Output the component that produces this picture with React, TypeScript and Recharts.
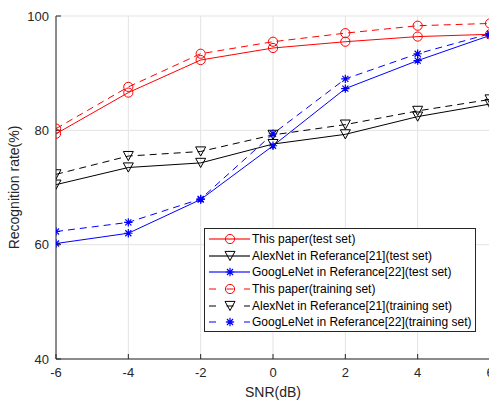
import { LineChart, Line, XAxis, YAxis, CartesianGrid, Legend } from 'recharts'

const snr = [-6, -4, -2, 0, 2, 4, 6]
const oursTest = [79.4, 86.6, 92.3, 94.4, 95.5, 96.4, 96.8]
const alexTest = [70.5, 73.5, 74.3, 77.6, 79.3, 82.4, 84.6]
const googTest = [60.2, 62.0, 67.9, 77.3, 87.3, 92.2, 96.6]
const oursTrain = [80.3, 87.6, 93.4, 95.5, 97.0, 98.3, 98.7]
const alexTrain = [72.3, 75.5, 76.3, 79.2, 81.0, 83.4, 85.4]
const googTrain = [62.3, 63.9, 68.0, 79.4, 89.0, 93.4, 96.9]

const xTicks = [-6, -4, -2, 0, 2, 4, 6]
const yTicks = [40, 60, 80, 100]

type Marker = 'circle' | 'tri' | 'star'

const SERIES: { key: string; name: string; color: string; marker: Marker; dashed: boolean }[] = [
  { key: 'oursTest', name: 'This paper(test set)', color: '#ff0000', marker: 'circle', dashed: false },
  { key: 'alexTest', name: 'AlexNet in Referance[21](test set)', color: '#000000', marker: 'tri', dashed: false },
  { key: 'googTest', name: 'GoogLeNet in Referance[22](test set)', color: '#0000ff', marker: 'star', dashed: false },
  { key: 'oursTrain', name: 'This paper(training set)', color: '#ff0000', marker: 'circle', dashed: true },
  { key: 'alexTrain', name: 'AlexNet in Referance[21](training set)', color: '#000000', marker: 'tri', dashed: true },
  { key: 'googTrain', name: 'GoogLeNet in Referance[22](training set)', color: '#0000ff', marker: 'star', dashed: true },
]

const data = snr.map((x, i) => ({
  snr: x,
  oursTest: oursTest[i],
  alexTest: alexTest[i],
  googTest: googTest[i],
  oursTrain: oursTrain[i],
  alexTrain: alexTrain[i],
  googTrain: googTrain[i],
}))

const AXIS = '#262626'
const FONT = '"Liberation Sans", Arial, sans-serif'
const DASH = '7 5'

function MarkerShape({ type, cx, cy, color }: { type: Marker; cx: number; cy: number; color: string }) {
  if (type === 'circle') return <circle cx={cx} cy={cy} r={4.6} fill="none" stroke={color} strokeWidth={1} />
  if (type === 'tri') {
    const w = 5, h = 4.6
    return <path d={`M${cx - w},${cy - h}L${cx + w},${cy - h}L${cx},${cy + h}Z`} fill="none" stroke={color} strokeWidth={1} />
  }
  const r = 4.2, d = r * 0.72
  return (
    <path d={`M${cx - r},${cy}L${cx + r},${cy}M${cx},${cy - r}L${cx},${cy + r}M${cx - d},${cy - d}L${cx + d},${cy + d}M${cx - d},${cy + d}L${cx + d},${cy - d}`}
      stroke={color} strokeWidth={1.2} fill="none" />
  )
}

const LegendBox = () => (
  <div style={{ boxSizing: 'border-box', width: 272, height: 104, border: `1px solid ${AXIS}`, background: '#fff',
    padding: '2px 0 0 0', fontFamily: FONT, fontSize: 12, color: '#000' }}>
    {SERIES.map(s => (
      <div key={s.key} style={{ display: 'flex', alignItems: 'center', height: 16.6 }}>
        <svg width={47} height={16} style={{ flex: 'none' }}>
          <line x1={4} x2={45} y1={8} y2={8} stroke={s.color} strokeWidth={s.dashed ? 1 : 1.4}
            strokeDasharray={s.dashed ? '7 10.5' : undefined} strokeDashoffset={s.dashed ? 0 : undefined}
            opacity={s.dashed ? 1 : 0.75} />
          <MarkerShape type={s.marker} cx={25} cy={8} color={s.color} />
        </svg>
        <span style={{ whiteSpace: 'nowrap', lineHeight: '16px' }}>{s.name}</span>
      </div>
    ))}
  </div>
)

const YLabel = ({ viewBox }: any) => {
  const cy = viewBox.y + viewBox.height / 2
  return (
    <text x={19} y={cy} transform={`rotate(-90, 19, ${cy})`} textAnchor="middle" fontFamily={FONT} fontSize={14} fill={AXIS}>
      Recognition rate(%)
    </text>
  )
}

const XLabel = ({ viewBox }: any) => (
  <text x={viewBox.x + viewBox.width / 2} y={397} textAnchor="middle" fontFamily={FONT} fontSize={14} fill={AXIS}>
    SNR(dB)
  </text>
)

export default function App() {
  return (
    <div style={{ position: 'fixed', left: 0, top: 0, width: 489, height: 400, overflow: 'hidden', background: '#fff' }}>
      <LineChart width={520} height={400} data={data} margin={{ top: 16, right: 30, left: 0, bottom: 0 }}>
        <CartesianGrid stroke="#e3e3e3" strokeWidth={1} horizontalValues={yTicks} verticalValues={xTicks} />
        <XAxis dataKey="snr" type="number" domain={[-6, 6]} ticks={xTicks} height={41} allowDataOverflow
          stroke={AXIS} tickSize={-5} tickMargin={14}
          tick={{ fill: AXIS, fontSize: 13, fontFamily: FONT }} label={<XLabel />} />
        <XAxis xAxisId="top" orientation="top" type="number" domain={[-6, 6]} ticks={xTicks} height={0}
          allowDataOverflow stroke={AXIS} tickSize={-5} tick={false} />
        <YAxis type="number" domain={[40, 100]} ticks={yTicks} width={56} allowDataOverflow
          stroke={AXIS} tickSize={-5} tickMargin={12}
          tick={{ fill: AXIS, fontSize: 13, fontFamily: FONT }} label={<YLabel />} />
        <YAxis yAxisId="right" orientation="right" type="number" domain={[40, 100]} ticks={yTicks} width={0}
          allowDataOverflow stroke={AXIS} tickSize={-5} tick={false} />
        {SERIES.map(s => (
          <Line key={s.key} dataKey={s.key} name={s.name} stroke={s.color} strokeWidth={1}
            strokeDasharray={s.dashed ? DASH : undefined} isAnimationActive={false}
            dot={(p: any) => <MarkerShape key={`${s.key}-${p.index}`} type={s.marker} cx={p.cx} cy={p.cy} color={s.color} />}
            activeDot={false} />
        ))}
        <Legend layout="vertical" align="center" verticalAlign="middle" content={<LegendBox />}
          wrapperStyle={{ left: 204, top: 228, width: 272, height: 104 }} />
      </LineChart>
    </div>
  )
}
